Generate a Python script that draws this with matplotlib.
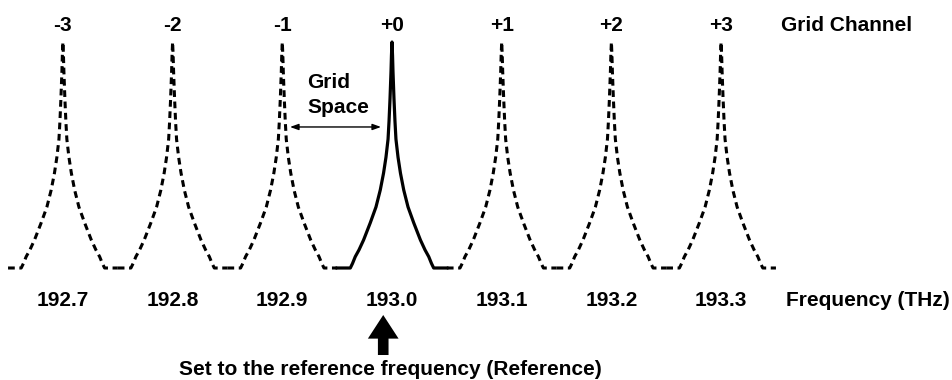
import numpy as np
import matplotlib
matplotlib.use('Agg')
import matplotlib.pyplot as plt

plt.rcParams['font.family'] = ['Liberation Sans', 'DejaVu Sans']

# Grid channels and their frequencies (THz)
channels = ['-3', '-2', '-1', '+0', '+1', '+2', '+3']
freqs = [192.7, 192.8, 192.9, 193.0, 193.1, 193.2, 193.3]
freq_labels = ['192.7', '192.8', '192.9', '193.0', '193.1', '193.2', '193.3']
ref_index = 3

# Peak shape: offset from centre (THz) vs relative level
profile_offset = [0.0, 0.0005, 0.0009, 0.0018, 0.0027, 0.0036, 0.0055, 0.0077,
                  0.0107, 0.0146, 0.0198, 0.0259, 0.0301, 0.0335, 0.036, 0.038, 0.05]
profile_level = [1.0, 0.94, 0.87, 0.75, 0.65, 0.57, 0.49, 0.42,
                 0.345, 0.27, 0.2, 0.124, 0.08, 0.05, 0.02, 0.0, 0.0]

W, H = 952, 380
fig = plt.figure(figsize=(W / 100, H / 100), dpi=100)
ax = fig.add_axes([0, 0, 1, 1])
px_per_thz = 1097.0
x0 = 193.0 - 392 / px_per_thz
x1 = 193.0 + (W - 392) / px_per_thz
y_top = 268 / 226
y_bot = -(H - 268) / 226
ax.set_xlim(x0, x1)
ax.set_ylim(y_bot, y_top)
ax.axis('off')

off = np.array(profile_offset)
lev = np.array(profile_level)
xs_rel = np.concatenate([-off[::-1], off[1:]])
ys = np.concatenate([lev[::-1], lev[1:]])

fs = 15
for i, (f, ch, fl) in enumerate(zip(freqs, channels, freq_labels)):
    if i == ref_index:
        ax.plot(f + xs_rel, ys, color='black', lw=2.3, solid_joinstyle='round')
    else:
        ax.plot(f + xs_rel, ys, color='black', lw=2.2, linestyle=(0, (2.2, 1.5)),
                dash_capstyle='butt')
    ax.text(f, 1.075, ch, ha='center', va='center', fontsize=fs, fontweight='bold')
    ax.text(f, -0.142, fl, ha='center', va='center', fontsize=fs, fontweight='bold')

ax.text(193.3546, 1.075, 'Grid Channel', ha='left', va='center', fontsize=fs, fontweight='bold')
ax.text(193.359, -0.142, 'Frequency (THz)', ha='left', va='center', fontsize=fs, fontweight='bold')

# Grid space annotation
ax.annotate('', xy=(192.907, 0.624), xytext=(192.990, 0.624),
            arrowprops=dict(arrowstyle='<|-|>,head_length=0.5,head_width=0.18',
                            color='black', lw=1.0, shrinkA=0, shrinkB=0))
ax.text(192.9225, 0.823, 'Grid', ha='left', va='center', fontsize=fs, fontweight='bold')
ax.text(192.9225, 0.708, 'Space', ha='left', va='center', fontsize=fs, fontweight='bold')

# Reference arrow
ax.annotate('', xy=(192.992, -0.208), xytext=(192.992, -0.385),
            arrowprops=dict(arrowstyle='simple,head_length=1.0,head_width=1.3,tail_width=0.45',
                            color='black', lw=0, shrinkA=0, shrinkB=0,
                            mutation_scale=17))
ax.text(193.0 - 2 / px_per_thz, -0.451, 'Set to the reference frequency (Reference)',
        ha='center', va='center', fontsize=fs, fontweight='bold')

fig.savefig('out.png', dpi=100)
